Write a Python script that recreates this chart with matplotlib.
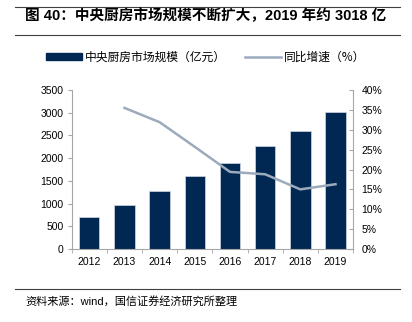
import matplotlib
matplotlib.use("Agg")
import matplotlib.pyplot as plt
from matplotlib.lines import Line2D
from matplotlib.patches import Patch
from matplotlib.ticker import FuncFormatter, MultipleLocator

plt.rcParams['font.family'] = ['Liberation Sans', 'Noto Sans CJK SC', 'DejaVu Sans']

years = ["2012", "2013", "2014", "2015", "2016", "2017", "2018", "2019"]
market_size = [710, 970, 1280, 1600, 1900, 2260, 2600, 3018]
growth_years = ["2013", "2014", "2015", "2016", "2017", "2018", "2019"]
growth_pct = [35.5, 31.9, 25.7, 19.4, 18.8, 15.0, 16.3]

title = "图 40：中央厨房市场规模不断扩大，2019 年约 3018 亿"
source = "资料来源：wind，国信证券经济研究所整理"
bar_label = "中央厨房市场规模（亿元）"
line_label = "同比增速（%）"

navy = "#012853"
line_col = "#9BABBC"
axis_col = "#A6A6A6"

fig = plt.figure(figsize=(4.12, 3.22), dpi=100)
ax = fig.add_axes([0.174, 0.2267, 0.683, 0.4938])
ax2 = ax.twinx()

x = list(range(len(years)))
ax.bar(x, market_size, width=0.58, color=navy, edgecolor="#D0D8E2", linewidth=0.5, zorder=2)
gx = [years.index(y) for y in growth_years]
ax2.plot(gx, growth_pct, color=line_col, linewidth=1.8, zorder=3)

ax.set_xlim(-0.5, len(years) - 0.5)
ax.set_ylim(0, 3500)
ax.yaxis.set_major_locator(MultipleLocator(500))
ax2.set_ylim(0, 40)
ax2.yaxis.set_major_locator(MultipleLocator(5))
ax2.yaxis.set_major_formatter(FuncFormatter(lambda v, p: f"{int(v)}%"))

ax.set_xticks(x)
ax.set_xticklabels(years)
ax.set_xticks([i - 0.5 for i in range(len(years) + 1)], minor=True)
ax.tick_params(axis="x", which="major", length=0, pad=6, labelsize=7.5, colors="#000000")
ax.tick_params(axis="x", which="minor", length=3, color=axis_col, direction="out")
ax.tick_params(axis="y", length=3, color=axis_col, direction="out", labelsize=7.5, pad=3)
ax2.tick_params(axis="y", length=3, color=axis_col, direction="in", labelsize=7.5, pad=6)

for a in (ax, ax2):
    a.spines["top"].set_visible(False)
    for s in ("left", "right", "bottom"):
        a.spines[s].set_color(axis_col)
        a.spines[s].set_linewidth(0.8)
ax.spines["right"].set_visible(False)
ax2.spines["left"].set_visible(False)
ax2.spines["bottom"].set_visible(False)

handles = [Patch(facecolor=navy, edgecolor=navy),
           Line2D([0], [0], color=line_col, linewidth=1.8)]
fig.legend(handles, [bar_label, line_label], loc="center", bbox_to_anchor=(0.5, 0.823),
           ncol=2, frameon=False, prop={"family": ["Noto Sans CJK SC"], "size": 8.5},
           handlelength=3.0, handleheight=0.5, columnspacing=1.6, handletextpad=0.3)

fig.text(0.061, 1 - 16 / 322, title, fontsize=10.5, fontweight="bold", va="center", ha="left",
         family=["Liberation Sans", "Noto Sans CJK SC"])
fig.text(0.061, 1 - 301 / 322, source, fontsize=8, va="center", ha="left",
         family=["Liberation Sans", "Noto Sans CJK SC"])

for yy in (7, 35, 289):
    fig.add_artist(Line2D([15 / 412, 400 / 412], [1 - yy / 322] * 2, color="#404040", linewidth=0.8))

fig.savefig("out.png", dpi=100)
